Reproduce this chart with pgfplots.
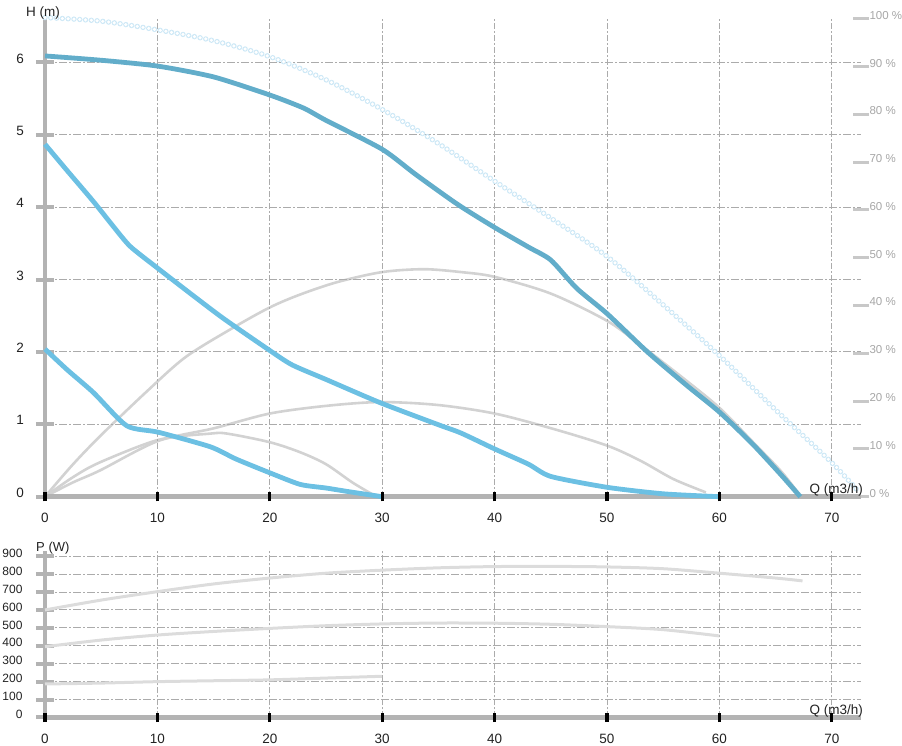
\documentclass[border=0pt]{standalone}
\usepackage{fontspec}
\setmainfont{Liberation Sans}
\usepackage{pgfplots}
\pgfplotsset{compat=1.18}
\definecolor{axgray}{HTML}{B3B3B3}
\definecolor{gridgray}{HTML}{ABABAB}
\definecolor{bluedark}{HTML}{62ADCA}
\definecolor{bluelight}{HTML}{6CC0E3}
\definecolor{effgray}{HTML}{D2D2D2}
\definecolor{powgray}{HTML}{DCDCDC}
\definecolor{ringblue}{HTML}{CDE8F6}
\definecolor{pctgray}{HTML}{A6A6A6}
\definecolor{pctbar}{HTML}{C8C8C8}
\definecolor{labelc}{HTML}{222222}
\pgfplotsset{
  frame/.style={
    scale only axis, anchor=south west, width=816pt,
    xmin=0, xmax=72.6,
    /pgf/number format/assume math mode=true,
    clip=false,
  },
  mygrids/.style={
    xmajorgrids, ymajorgrids,
    x grid style={gridgray, line width=0.9pt, dash pattern=on 6pt off 2pt on 2pt off 2pt},
    y grid style={gridgray, line width=0.9pt, dash pattern=on 8pt off 2pt on 2pt off 2pt},
    axis lines*=left,
    axis line style={draw=axgray, line width=4.8pt},
    tick align=center,
    major tick length=18pt,
    xtick style={draw=none},
    xtick={0,10,...,70},
    xticklabel style={yshift=-4pt, font=\fontsize{13.5}{16}\selectfont, text=labelc},
  },
  blackticks/.style={
    axis x line*=bottom, axis y line=none,
    x axis line style={draw=none},
    ytick=\empty,
    xtick={0,10,...,70}, xticklabels={},
    tick align=center, major tick length=9.5pt,
    xtick style={draw=black, line width=3.3pt},
  },
}
\pgfplotstableread{
x y
0 6.62
5 6.57
10 6.45
15 6.3
20 6.08
25 5.76
30 5.35
35 4.88
40 4.36
45 3.85
50 3.32
55 2.65
60 1.95
65 1.2
70 0.47
72.5 0.05
}\maxcurve
\begin{document}
\begin{tikzpicture}
\path[use as bounding box] (0pt,0pt) rectangle (902pt,746pt);

% efficiency axis (right, percent)
\begin{axis}[frame, at={(45pt,249.3pt)}, height=478.4pt,
  ymin=0, ymax=100.1,
  axis x line=none, axis y line*=right,
  y axis line style={draw=none},
  xtick=\empty,
  ytick={0,10,...,100},
  tick align=center, major tick length=16pt,
  ytick style={draw=pctbar, line width=3pt},
  yticklabel={\pgfmathprintnumber{\tick} \%},
  yticklabel style={anchor=west, xshift=-3pt, yshift=3.5pt, font=\fontsize{11.5}{14}\selectfont, text=pctgray},
]
\addplot[effgray, line width=2.6pt, smooth, tension=0.5] coordinates {
(0,0) (2.5,6.8) (5,12.9) (9,21.9) (12.5,29.2) (16.7,35.3) (20,39.6) (22.7,42.3) (26,44.9) (30,47.0) (33.7,47.6) (37,47.0) (40,46.0) (45,42.5) (50,36.8) (53,31.7) (57,24.4) (60,18.6) (63,11.4) (65.5,5.3) (67,0.8)};
\addplot[effgray, line width=2.6pt, smooth, tension=0.5] coordinates {
(0,0) (2.5,3.0) (4.9,5.5) (10,11.6) (15,14.3) (20,17.4) (25,19.0) (29.8,19.8) (34.9,19.2) (40,17.4) (45.2,14.2) (50,10.7) (53,7.5) (55.9,3.7) (58.8,0.9)};
\addplot[effgray, line width=2.6pt, smooth, tension=0.5] coordinates {
(0,0) (2.5,4.1) (4.9,7.2) (10.1,11.9) (14.7,13.2) (16.2,13.2) (20,11.4) (22.7,9.3) (25,6.8) (27.4,2.9) (29.5,0)};
\end{axis}

% head axis
\begin{axis}[frame, mygrids, at={(45pt,249.3pt)}, height=478.4pt,
  ymin=0, ymax=6.61,
  ytick={0,1,...,6},
  ytick style={draw=axgray, line width=4pt},
  yticklabel style={xshift=-8.5pt, yshift=4pt, font=\fontsize{13.5}{16}\selectfont, text=labelc},
  xlabel={Q (m3/h)}, ylabel={H (m)},
  every axis x label/.style={at={(axis description cs:1,0)}, anchor=east, xshift=5.5pt, yshift=6.7pt, font=\fontsize{13.5}{16}\selectfont, text=labelc},
  every axis y label/.style={at={(axis description cs:0,1)}, anchor=west, xshift=-22.5pt, yshift=5pt, font=\fontsize{13.5}{16}\selectfont, text=labelc},
]
\addplot[ringblue, line width=5.4pt, line cap=round, dash pattern=on 0pt off 5.8pt, smooth, tension=0.5] table {\maxcurve};
\addplot[white, line width=3.5pt, line cap=round, dash pattern=on 0pt off 5.8pt, smooth, tension=0.5] table {\maxcurve};
\addplot[bluelight, line width=4.8pt, smooth, tension=0.4] coordinates {
(0,2.04) (2,1.75) (4.3,1.44) (7.27,0.98) (10.1,0.89) (14.7,0.69) (17,0.52) (20,0.33) (22.7,0.17) (25,0.12) (27,0.07) (30,0)};
\addplot[bluelight, line width=4.8pt, smooth, tension=0.4] coordinates {
(0,4.87) (2,4.5) (4.3,4.08) (6,3.75) (7.57,3.46) (10,3.16) (13,2.8) (15.9,2.46) (20,2.02) (22,1.82) (25,1.62) (29.8,1.3) (34.9,1.0) (37,0.88) (40,0.66) (43,0.45) (45,0.28) (50,0.13) (55,0.04) (60,0)};
\addplot[bluedark, line width=4.8pt, smooth, tension=0.4] coordinates {
(0,6.09) (5,6.03) (10,5.95) (15,5.8) (20,5.55) (23,5.37) (25,5.2) (30,4.8) (33,4.45) (36.7,4.04) (40,3.72) (43,3.45) (45,3.27) (47.3,2.88) (50,2.53) (53.6,2.0) (57,1.55) (60,1.17) (63,0.72) (65.5,0.3) (67.2,0)};
\end{axis}
\begin{axis}[frame, blackticks, at={(45pt,249.3pt)}, height=478.4pt, ymin=0, ymax=6.61]
\end{axis}

% power axis
\begin{axis}[frame, mygrids, at={(45pt,28.5pt)}, height=166.7pt,
  ymin=0, ymax=930,
  ytick={0,100,...,900},
  ytick style={draw=axgray, line width=4pt},
  yticklabel style={xshift=-10pt, yshift=3pt, font=\fontsize{12}{14}\selectfont, text=labelc},
  xlabel={Q (m3/h)}, ylabel={P (W)},
  every axis x label/.style={at={(axis description cs:1,0)}, anchor=east, xshift=5.5pt, yshift=6.5pt, font=\fontsize{13.5}{16}\selectfont, text=labelc},
  every axis y label/.style={at={(axis description cs:0,1)}, anchor=west, xshift=-12.3pt, yshift=2.8pt, font=\fontsize{13}{16}\selectfont, text=labelc},
]
\addplot[powgray, line width=3pt, smooth, tension=0.5] coordinates {
(0,600) (5,655) (10,702) (15,745) (20,778) (25,805) (30,822) (35,835) (40,842) (45,843) (50,840) (55,830) (60,805) (65,778) (67.4,762)};
\addplot[powgray, line width=3pt, smooth, tension=0.5] coordinates {
(0,395) (5,432) (10,460) (15,480) (20,497) (25,512) (30,522) (35,527) (40,526) (45,520) (50,507) (55,490) (60,455)};
\addplot[powgray, line width=3pt, smooth, tension=0.5] coordinates {
(0,187) (5,192) (10,200) (15,205) (20,210) (25,220) (30,230)};
\end{axis}
\begin{axis}[frame, blackticks, at={(45pt,28.5pt)}, height=166.7pt, ymin=0, ymax=930]
\end{axis}
\end{tikzpicture}
\end{document}
